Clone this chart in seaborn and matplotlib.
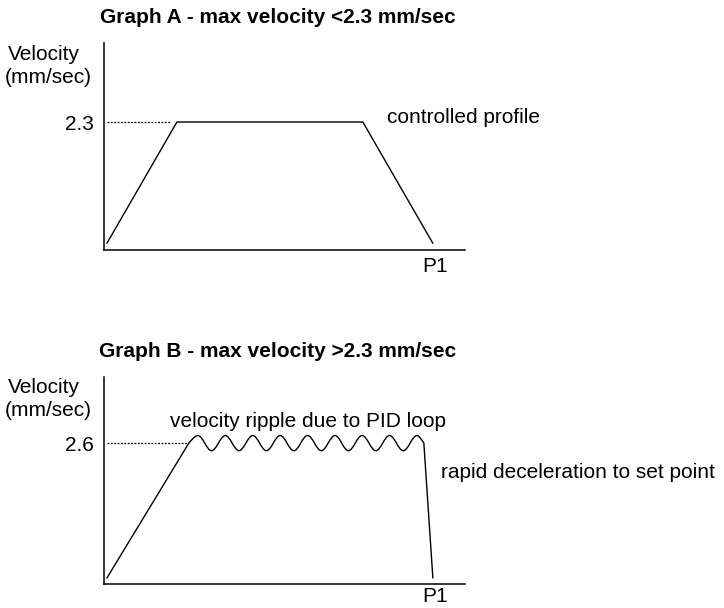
import matplotlib
matplotlib.use("Agg")
import matplotlib.pyplot as plt
import seaborn as sns
from matplotlib.path import Path
from matplotlib.patches import PathPatch

# position along the move (0-100 across the axis), velocity in mm/sec
prof_a_x = [0.8, 20.2, 71.7, 91.1]
prof_a_v = [0.12, 2.3, 2.3, 0.12]
guide_a_x = [0.8, 18.3]

ramp_b_x = [0.8, 23.5]
ramp_b_v = [0.11, 2.6]
ripple_x = [23.5, 26.0, 29.8, 33.6, 37.4, 41.2, 45.0, 48.8, 52.6, 56.4,
            60.2, 64.0, 67.7, 71.5, 75.3, 79.1, 82.9, 86.7, 88.6]
ripple_v = [2.6, 2.74, 2.46, 2.74, 2.46, 2.74, 2.46, 2.74, 2.46, 2.74,
            2.46, 2.74, 2.46, 2.74, 2.46, 2.74, 2.46, 2.74, 2.6]
drop_b_x = [88.6, 91.1]
drop_b_v = [2.6, 0.11]
guide_b_x = [0.8, 23.0]

level_a = 2.3
level_b = 2.6
p1_x = 91.7

sns.set_theme(style="white")
plt.rcParams["font.family"] = ["Liberation Sans", "DejaVu Sans"]
plt.rcParams["text.color"] = "black"
FS = 15

W, H = 724, 608
fig = plt.figure(figsize=(W / 100, H / 100), dpi=100)


def px(x, y):
    return x / W, 1 - y / H


def style_axes(ax, ytop, level, p1_pad):
    ax.set_xlim(0, 100)
    ax.set_ylim(0, ytop)
    sns.despine(ax=ax)
    for s in ["left", "bottom"]:
        ax.spines[s].set_color("black")
        ax.spines[s].set_linewidth(1.1)
    ax.set_yticks([level], [f"{level}"])
    ax.set_xticks([p1_x], ["P1"])
    ax.tick_params(axis="y", length=0, pad=7.5, labelsize=FS, colors="black")
    ax.tick_params(axis="x", length=0, pad=p1_pad, labelsize=FS, colors="black")
    ax.set_xlabel("")
    ax.set_ylabel("")


# Graph A
ax_a = fig.add_axes([104 / W, (H - 250) / H, 361 / W, 207 / H])
sns.lineplot(x=prof_a_x, y=prof_a_v, ax=ax_a, color="black", lw=1.0,
             sort=False, estimator=None)
ax_a.hlines(level_a, guide_a_x[0], guide_a_x[1], color="black", lw=0.9,
            linestyles=(0, (1.5, 1.2)))
style_axes(ax_a, 3.72, level_a, 5)

# Graph B
ax_b = fig.add_axes([104 / W, (H - 584) / H, 361 / W, 207 / H])
sns.lineplot(x=ramp_b_x, y=ramp_b_v, ax=ax_b, color="black", lw=1.0,
             sort=False, estimator=None)
sns.lineplot(x=drop_b_x, y=drop_b_v, ax=ax_b, color="black", lw=1.0,
             sort=False, estimator=None)

# ripple: smooth curve through the read peaks/troughs
verts = [(ripple_x[0], ripple_v[0])]
codes = [Path.MOVETO]
k = 0.36
n = len(ripple_x)
for i in range(n - 1):
    x0, y0 = ripple_x[i], ripple_v[i]
    x1, y1 = ripple_x[i + 1], ripple_v[i + 1]
    dx = x1 - x0
    c1 = (x0, y0) if i == 0 else (x0 + k * dx, y0)
    c2 = (x1, y1) if i == n - 2 else (x1 - k * dx, y1)
    verts += [c1, c2, (x1, y1)]
    codes += [Path.CURVE4] * 3
ax_b.add_patch(PathPatch(Path(verts, codes), fill=False, edgecolor="black", lw=1.0))

ax_b.hlines(level_b, guide_b_x[0], guide_b_x[1], color="black", lw=0.9,
            linestyles=(0, (1.5, 1.2)))
style_axes(ax_b, 3.82, level_b, 2)

# titles and labels
fig.text(*px(278, 23), "Graph A - max velocity <2.3 mm/sec", fontsize=FS,
         fontweight="bold", ha="center", va="baseline")
fig.text(*px(278, 357), "Graph B - max velocity >2.3 mm/sec", fontsize=FS,
         fontweight="bold", ha="center", va="baseline")

for y0 in (60, 393):
    fig.text(*px(8, y0), "Velocity", fontsize=FS, ha="left", va="baseline")
    fig.text(*px(5, y0 + 23), "(mm/sec)", fontsize=FS, ha="left", va="baseline")

fig.text(*px(387, 123), "controlled profile", fontsize=FS, ha="left", va="baseline")
fig.text(*px(170, 427), "velocity ripple due to PID loop", fontsize=FS,
         ha="left", va="baseline")
fig.text(*px(441, 478), "rapid deceleration to set point", fontsize=FS,
         ha="left", va="baseline")

fig.savefig("out.png", dpi=100)
